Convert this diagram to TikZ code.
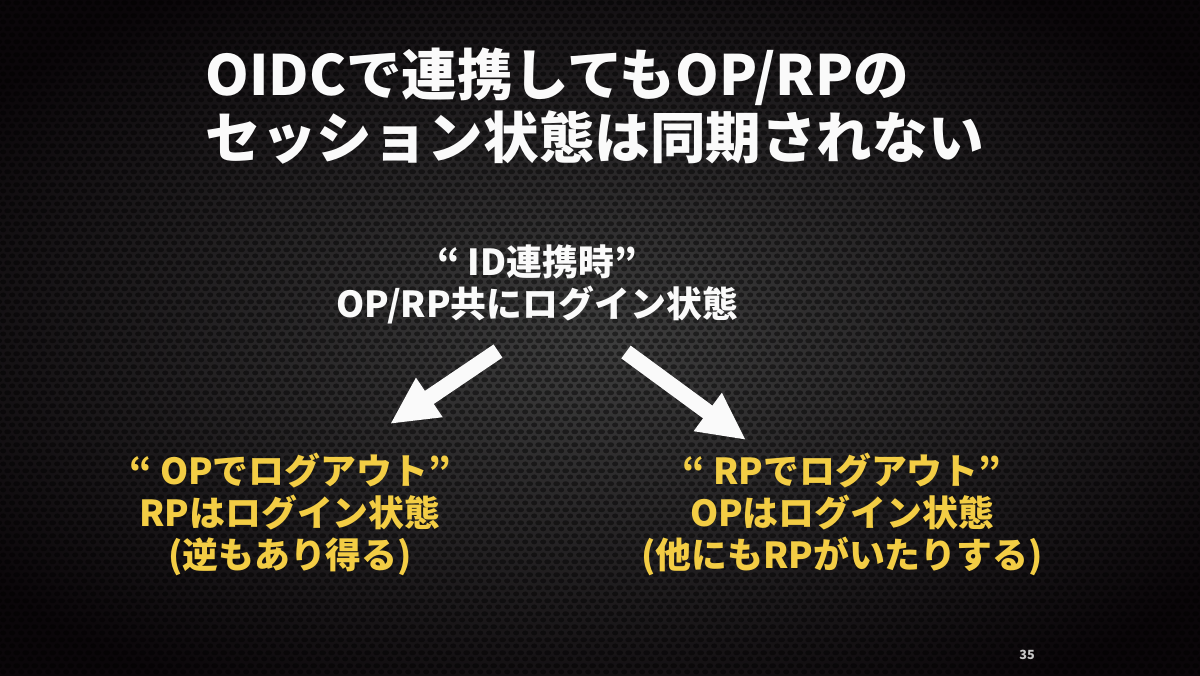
\documentclass[tikz,border=0pt]{standalone}
\usepackage{fontspec}
\setmainfont{Noto Sans CJK JP}
\usepackage{tikz}
\usetikzlibrary{arrows.meta, positioning, patterns}
\definecolor{slidedark}{RGB}{10, 6, 9}
\definecolor{slidegray}{RGB}{62, 62, 62}
\definecolor{slidewhite}{RGB}{250, 250, 250}
\definecolor{slideyellow}{RGB}{243, 205, 68}
\definecolor{pagegray}{RGB}{200, 200, 200}

% hexagonal hole texture of the slide background
\pgfdeclarepatternformonly{hexholes}{\pgfqpoint{0pt}{0pt}}{\pgfqpoint{2.6pt}{3.6pt}}{\pgfqpoint{2.6pt}{3.6pt}}{
  \pgfpathellipse{\pgfqpoint{1.3pt}{0.9pt}}{\pgfqpoint{0.95pt}{0pt}}{\pgfqpoint{0pt}{0.72pt}}
  \pgfpathellipse{\pgfqpoint{0pt}{2.7pt}}{\pgfqpoint{0.95pt}{0pt}}{\pgfqpoint{0pt}{0.72pt}}
  \pgfpathellipse{\pgfqpoint{2.6pt}{2.7pt}}{\pgfqpoint{0.95pt}{0pt}}{\pgfqpoint{0pt}{0.72pt}}
  \pgfusepath{fill}
}

\begin{document}
\begin{tikzpicture}[
    x=0.01cm, y=-0.01cm,
    titletext/.style={text=slidewhite, font=\bfseries\fontsize{15.8}{18.5}\selectfont, anchor=base west, inner sep=0pt},
    keytext/.style={text=slidewhite, font=\bfseries\fontsize{10.2}{11.95}\selectfont, align=center, inner sep=0pt},
    caseleft/.style={text=slideyellow, font=\bfseries\fontsize{10.2}{11.95}\selectfont, align=center, inner sep=0pt},
    arrow/.style={line width=4.5pt, draw=slidewhite, -{Triangle[length=13.5pt, width=12.5pt]}}
]
    % background
    \useasboundingbox (0,0) rectangle (1200,675);
    \shade[inner color=slidegray, outer color=slidedark] (-150,-80) rectangle (1350,755);
    \fill[pattern=hexholes, pattern color=black, fill opacity=0.45] (0,0) rectangle (1200,675);

    \node[titletext] (title1) at (205,95) {OIDCで連携してもOP/RPの};
    \node[titletext] (title2) at (205,158) {セッション状態は同期されない};

    \node[keytext, anchor=north] (sync) at (537,244) {“ ID連携時”\\OP/RP共にログイン状態};

    \node[caseleft, anchor=north] (oplogout) at (290,452) {“ OPでログアウト”\\RPはログイン状態\\(逆もあり得る)};
    \node[caseleft, anchor=north] (rplogout) at (842,452) {“ RPでログアウト”\\OPはログイン状態\\(他にもRPがいたりする)};

    \coordinate (l-start) at (498,351);
    \coordinate (l-end) at (390,424);
    \coordinate (r-start) at (626,352);
    \coordinate (r-end) at (746,440);
    \draw[arrow] (l-start) -- (l-end);
    \draw[arrow] (r-start) -- (r-end);

    \node[text=pagegray, font=\bfseries\fontsize{3.6}{4}\selectfont] (page) at (1027,655) {35};
\end{tikzpicture}
\end{document}
